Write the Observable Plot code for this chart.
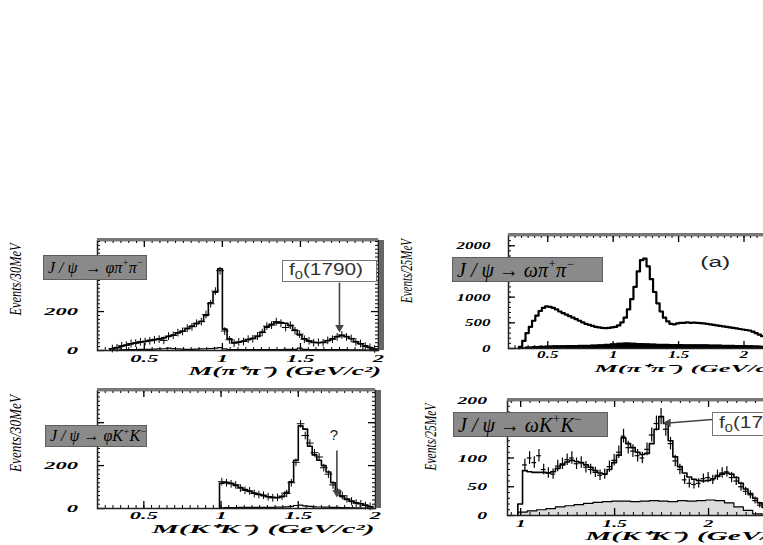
<!DOCTYPE html>
<html><head><meta charset="utf-8">
<script src="https://cdn.jsdelivr.net/npm/d3@7"></script>
<script src="https://cdn.jsdelivr.net/npm/@observablehq/plot@0.6"></script>
<style>
body{margin:0;background:#fff;}
#wrap{position:relative;width:763px;height:545px;overflow:hidden;background:#fff;}
#wrap svg{position:absolute;}
.box{position:absolute;box-sizing:border-box;background:#8a8a8a;border:1px solid #5e5e5e;font-family:"Liberation Serif","Times New Roman",serif;font-style:italic;color:#000;white-space:nowrap;line-height:1;display:flex;align-items:center;padding-left:4px;}
.box sup{font-size:60%;position:relative;top:-0.45em;vertical-align:baseline;}
.fbox{position:absolute;box-sizing:border-box;background:#fff;border:1px solid #777;font-family:"Liberation Sans",Arial,sans-serif;font-size:16px;color:#333;white-space:nowrap;display:flex;align-items:center;padding-left:6px;}
.fbox span{display:inline-block;transform:scaleX(1.3);transform-origin:left center;}
.fbox sub{font-size:70%;}
</style></head><body><div id="wrap"></div><script>
// ---------- Panel 1: J/psi -> phi pi+ pi-  (30 MeV bins) ----------
const p1Start = 0.28, p1Bin = 0.03;
const p1Fit = [8,15,22,28,34,39,43,47,52,56,60,65,72,80,90,100,112,125,138,150,180,245,300,420,110,60,40,42,48,55,63,72,95,120,135,143,144,140,128,105,80,60,48,42,40,42,50,60,72,77,72,60,45,34,24,15,6];
const p1Data = [10,14,24,27,36,38,45,46,50,55,58,52,74,78,92,98,115,122,140,148,185,240,305,410,100,55,38,44,46,58,60,75,92,125,130,148,140,118,130,102,84,58,50,40,42,40,52,58,70,80,70,62,44,36,22,16,8];
const p1Bkg = [0,2,3,4,5,5,6,6,6,7,8,9,12,10,8,7,6,6,7,8,9,10,12,15,8,5,4,4,4,4,5,5,5,5,5,5,5,6,6,6,12,6,5,5,4,4,4,4,4,4,4,3,3,3,2,2,1];
const p1XTicks = [0.5,1,1.5,2];
const p1YTicks = [0,200];
const p1Arrow = [{x1:1.75,y1:349,x2:1.75,y2:118}];

// ---------- Panel 2: J/psi -> omega pi+ pi-  (25 MeV bins) ----------
const p2Start = 0.28, p2Bin = 0.025;
const p2Fit = [30,150,300,420,540,640,730,790,820,810,790,760,720,690,660,630,600,570,540,510,480,460,440,420,410,400,395,400,410,420,450,510,600,760,960,1200,1500,1720,1750,1600,1350,1100,880,720,600,530,480,470,490,500,500,510,500,505,500,495,490,480,470,460,450,440,430,420,410,400,390,380,370,360,350,330,300,270,240,210,180,150,120,90,60,40,20,5];
const p2BkgStart = 0.28, p2BkgBin = 0.05;
const p2Bkg = [10,25,35,40,45,50,50,55,55,60,60,65,70,80,90,100,105,100,95,90,85,80,80,75,75,70,70,70,70,65,65,60,60,55,55,50,45,40,35,25,15,5];
const p2XTicks = [0.5,1,1.5,2];
const p2YTicks = [0,500,1000,2000];
const p2Note = [{m:1.78, v:1680, t:"(a)"}];

// ---------- Panel 3: J/psi -> phi K+ K-  (30 MeV bins) ----------
const p3Start = 0.99, p3Bin = 0.03;
const p3Fit = [118,122,118,108,98,88,80,72,66,60,55,52,50,55,75,125,225,385,370,290,250,225,200,170,120,85,55,42,33,27,22,16,8];
const p3Data = [125,120,115,110,95,85,82,70,65,62,55,50,52,58,70,120,215,395,340,305,260,240,190,160,110,80,60,45,35,25,22,14,10];
const p3Bkg = [3,4,4,4,5,5,5,5,5,5,5,5,6,6,8,10,14,16,12,10,8,7,6,6,5,5,4,4,3,3,2,2,1];
const p3XTicks = [0.5,1,1.5,2];
const p3YTicks = [0,200];
const p3Arrow = [{x1:1.75,y1:270,x2:1.75,y2:75}];
const p3Note = [{m:1.73, v:340, t:"?"}];

// ---------- Panel 4: J/psi -> omega K+ K-  (25 MeV bins) ----------
const p4Start = 0.985, p4Bin = 0.025;
const p4Fit = [20,78,76,75,75,75,74,76,82,88,93,96,94,92,88,84,78,74,72,80,92,105,135,125,118,110,106,108,125,150,172,160,130,102,85,74,67,63,61,60,61,64,68,72,74,72,66,56,46,38,30,22,14,8,3];
const p4PtsM = [1.0225,1.0475,1.0725,1.0975,1.1225,1.1475,1.1725,1.1975,1.2225,1.2475,1.2725,1.2975,1.3225,1.3475,1.3725,1.3975,1.4225,1.4475,1.4725,1.4975,1.5225,1.5475,1.5725,1.5975,1.6225,1.6475,1.6725,1.6975,1.7225,1.7475,1.7725,1.7975,1.8225,1.8475,1.8725,1.8975,1.9225,1.9475,1.9725,1.9975,2.0225,2.0475,2.0725,2.0975,2.1225,2.1475,2.1725,2.1975,2.2225,2.2475,2.2725];
const p4PtsV = [88,100,92,104,80,74,72,86,90,97,100,90,92,84,80,75,70,72,85,96,110,138,118,112,104,100,115,140,160,172,150,125,95,80,62,56,54,56,64,66,62,70,74,76,66,60,50,42,36,26,18];
const p4PtsE = [10,11,10,11,9,9,9,10,10,10,11,10,10,10,9,9,9,9,10,10,11,12,11,11,11,10,11,12,13,14,12,11,10,9,8,8,8,8,8,9,8,9,9,9,9,8,8,7,7,6,5];
const p4BkgStart = 0.985, p4BkgBin = 0.05;
const p4Bkg = [6,8,10,12,15,17,19,21,23,24,25,25,24,25,26,25,24,26,25,26,27,26,22,15,9,3,0];
const p4XTicks = [1,1.5,2];
const p4YTicks = [0,50,100,200];
const p4Arrow = [{x1:2.02,y1:167,x2:1.785,y2:161}];

const SERIF = "Liberation Serif, Times New Roman, serif";
const SANS = "Liberation Sans, Arial, sans-serif";

function rows(start, w, vals) {
  const r = [{m: start, v: 0}];
  vals.forEach((v, i) => r.push({m: start + i * w, v}));
  const end = start + vals.length * w;
  r.push({m: end, v: vals[vals.length - 1]});
  r.push({m: end, v: 0});
  return r;
}
function multiples(lo, hi, step) {
  const a = [];
  for (let k = Math.ceil(lo / step - 1e-9); k * step <= hi + 1e-9; k++) a.push(+(k * step).toFixed(6));
  return a;
}

function drawPanel(c) {
  const fh = c.height - c.mt - c.mb, fw = c.width - c.ml - c.mr;
  const [x0, x1] = c.xDomain, [y0, y1] = c.yDomain;
  const xMin = multiples(x0, x1, c.xMinor), xMaj = multiples(x0, x1, c.xMajor);
  const yMin = multiples(y0, y1, c.yMinor), yMaj = multiples(y0, y1, c.yMajor);
  const marks = [];
  if (c.bkg) {
    const br = rows(c.bkgStart, c.bkgBin, c.bkg);
    if (c.bkgFill) marks.push(Plot.areaY(br, {x: "m", y: "v", curve: "step-after", fill: c.bkgFill}));
    marks.push(Plot.line(br, {x: "m", y: "v", curve: "step-after", stroke: "#000", strokeWidth: 1.2}));
  }
  marks.push(Plot.line(rows(c.fitStart, c.fitBin, c.fit), {x: "m", y: "v", curve: "step-after", stroke: "#000", strokeWidth: c.fitWidth}));
  if (c.data) {
    const pts = c.data.map((v, i) => ({m: c.fitStart + (i + 0.5) * c.fitBin, v}));
    marks.push(Plot.dot(pts, {x: "m", y: "v", symbol: "plus", r: 2.6, stroke: "#000", strokeWidth: 1}));
  }
  if (c.pts) {
    marks.push(Plot.ruleX(c.pts, {x: "m", y1: d => d.v - d.e, y2: d => d.v + d.e, stroke: "#000", strokeWidth: 1.2}));
    marks.push(Plot.ruleY(c.pts, {y: "v", x1: d => d.m - c.fitBin / 2, x2: d => d.m + c.fitBin / 2, stroke: "#000", strokeWidth: 1.2}));
  }
  marks.push(
    Plot.tickX(xMin, {x: d => d, insetTop: fh - 3, stroke: "#000"}),
    Plot.tickX(xMin, {x: d => d, insetBottom: fh - 3, stroke: "#000"}),
    Plot.tickX(xMaj, {x: d => d, insetTop: fh - 7, stroke: "#000", strokeWidth: 1.3}),
    Plot.tickX(xMaj, {x: d => d, insetBottom: fh - 7, stroke: "#000", strokeWidth: 1.3}),
    Plot.tickY(yMin, {y: d => d, insetRight: fw - 3, stroke: "#000"}),
    Plot.tickY(yMin, {y: d => d, insetLeft: fw - 3, stroke: "#000"}),
    Plot.tickY(yMaj, {y: d => d, insetRight: fw - 7, stroke: "#000", strokeWidth: 1.3}),
    Plot.tickY(yMaj, {y: d => d, insetLeft: fw - 7, stroke: "#000", strokeWidth: 1.3})
  );
  marks.push(Plot.frame({stroke: "#222", strokeWidth: 1.5}));
  marks.push(Plot.ruleY([y1], {stroke: "#777", strokeWidth: 3, dy: -1}));
  if (c.shadow) marks.push(Plot.ruleX([x1], {stroke: "#666", strokeWidth: 5, dx: 3}));
  if (c.arrow) {
    marks.push(Plot.link(c.arrow, {x1: "x1", y1: "y1", x2: "x2", y2: "y2", stroke: "#444", strokeWidth: 1.6}));
    marks.push(Plot.dot(c.arrow, {x: "x2", y: "y2", symbol: "triangle", rotate: c.arrowRot, fill: "#444", r: 3.2}));
  }
  if (c.note) marks.push(Plot.text(c.note, {x: "m", y: "v", text: "t", fontFamily: SANS, fontSize: c.noteSize, fill: "#222"}));
  marks.push(
    Plot.axisX({ticks: c.xTicks, tickSize: 0, tickPadding: c.xPad, tickFormat: d => String(d), fontFamily: SERIF, fontWeight: "bold", fontStyle: "italic", fontSize: 11, label: null}),
    Plot.axisY({ticks: c.yTicks, tickSize: 0, tickPadding: c.yPad, tickFormat: d => String(d), fontFamily: SERIF, fontWeight: "bold", fontStyle: "italic", fontSize: 11, label: null}),
    Plot.text([c.xLabel], {frameAnchor: "bottom", text: d => d, textAnchor: "middle", lineAnchor: "middle", dx: c.xlDx, dy: c.xlDy, fontFamily: SERIF, fontWeight: "bold", fontStyle: "italic", fontSize: c.xlSize}),
    Plot.text([c.yLabel], {frameAnchor: "left", text: d => d, textAnchor: "middle", lineAnchor: "middle", rotate: -90, dx: c.ylDx, dy: c.ylDy, fontFamily: SERIF, fontStyle: "italic", fontSize: 17})
  );
  const svg = Plot.plot({
    width: c.width, height: c.height,
    marginLeft: c.ml, marginRight: c.mr, marginTop: c.mt, marginBottom: c.mb,
    x: {domain: c.xDomain, label: null},
    y: {domain: c.yDomain, label: null},
    style: {background: "transparent", overflow: "visible"},
    marks
  });
  svg.style.left = c.left + "px";
  svg.style.top = c.top + "px";
  svg.style.maxWidth = "none";
  document.getElementById("wrap").appendChild(svg);
  // the scanned original has horizontally stretched / condensed lettering: fit text lengths,
  // then keep each text's anchor (start / middle / end) where Plot put it
  svg.querySelectorAll("text").forEach(t => {
    const g = t.parentNode;
    const aria = (g && g.getAttribute && g.getAttribute("aria-label")) || "";
    const s = t.textContent;
    let L = null;
    if (/tick label/.test(aria)) L = t.getComputedTextLength() * c.tickStretch;
    else if (s === c.yLabel) L = c.ylLen;
    else if (s === c.xLabel) L = c.xlLen;
    else if (s === "(a)") L = 30;
    if (!L) return;
    const b0 = t.getBBox();
    t.setAttribute("textLength", L.toFixed(1));
    t.setAttribute("lengthAdjust", "spacingAndGlyphs");
    const b1 = t.getBBox();
    const anchor = getComputedStyle(t).textAnchor;
    let shift = 0;
    if (anchor === "end") shift = (b0.x + b0.width) - (b1.x + b1.width);
    else if (anchor === "middle") shift = (b0.x + b0.width / 2) - (b1.x + b1.width / 2);
    else shift = b0.x - b1.x;
    if (Math.abs(shift) > 0.3) {
      const tr = t.getAttribute("transform") || "";
      t.setAttribute("transform", (tr + ` translate(${shift.toFixed(2)},0)`).trim());
    }
  });
  return svg;
}

drawPanel({left: 0, top: 230, width: 392, height: 155, ml: 97, mr: 14, mt: 10, mb: 35,
  xDomain: [0.2, 2.0], yDomain: [0, 565], xMinor: 0.05, xMajor: 0.5, yMinor: 20, yMajor: 200,
  fitStart: p1Start, fitBin: p1Bin, fit: p1Fit, fitWidth: 1.6, data: p1Data,
  bkgStart: p1Start, bkgBin: p1Bin, bkg: p1Bkg,
  xTicks: p1XTicks, yTicks: p1YTicks, xPad: 4, yPad: 19, tickStretch: 2.05, shadow: true,
  arrow: p1Arrow, arrowRot: 180,
  xLabel: "M(π⁺π⁻) (GeV/c²)", xlDx: 46, xlDy: 21, xlSize: 12, xlLen: 193,
  yLabel: "Events/30MeV", ylDx: -82, ylDy: -16, ylLen: 72});

drawPanel({left: 390, top: 225, width: 442, height: 160, ml: 118, mr: 10, mt: 10, mb: 37,
  xDomain: [0.2, 2.6], yDomain: [0, 2200], xMinor: 0.05, xMajor: 0.5, yMinor: 100, yMajor: 500,
  fitStart: p2Start, fitBin: p2Bin, fit: p2Fit, fitWidth: 2.2,
  bkgStart: p2BkgStart, bkgBin: p2BkgBin, bkg: p2Bkg, bkgFill: "#000",
  xTicks: p2XTicks, yTicks: p2YTicks, xPad: 2, yPad: 18, tickStretch: 1.55,
  note: p2Note, noteSize: 14,
  xLabel: "M(π⁺π⁻) (GeV/c²)", xlDx: 23, xlDy: 20, xlSize: 11, xlLen: 190,
  yLabel: "Events/25MeV", ylDx: -102, ylDy: -21, ylLen: 64});

drawPanel({left: 0, top: 380, width: 392, height: 165, ml: 97, mr: 17, mt: 10, mb: 37,
  xDomain: [0.2, 2.0], yDomain: [0, 550], xMinor: 0.05, xMajor: 0.5, yMinor: 20, yMajor: 200,
  fitStart: p3Start, fitBin: p3Bin, fit: p3Fit, fitWidth: 1.6, data: p3Data,
  bkgStart: p3Start, bkgBin: p3Bin, bkg: p3Bkg,
  xTicks: p3XTicks, yTicks: p3YTicks, xPad: 3, yPad: 19, tickStretch: 2.05, shadow: true,
  arrow: p3Arrow, arrowRot: 180, note: p3Note, noteSize: 15,
  xLabel: "M(K⁺K⁻) (GeV/c²)", xlDx: 26, xlDy: 21, xlSize: 12, xlLen: 223,
  yLabel: "Events/30MeV", ylDx: -82, ylDy: -16, ylLen: 77});

drawPanel({left: 390, top: 390, width: 422, height: 160, ml: 117, mr: 10, mt: 10, mb: 35,
  xDomain: [0.93, 2.5], yDomain: [0, 200], xMinor: 0.05, xMajor: 0.5, yMinor: 10, yMajor: 50,
  fitStart: p4Start, fitBin: p4Bin, fit: p4Fit, fitWidth: 1.6,
  pts: p4PtsM.map((m, i) => ({m, v: p4PtsV[i], e: p4PtsE[i]})),
  bkgStart: p4BkgStart, bkgBin: p4BkgBin, bkg: p4Bkg, bkgFill: "#dcdcdc",
  xTicks: p4XTicks, yTicks: p4YTicks, xPad: 4, yPad: 20, tickStretch: 1.8,
  arrow: p4Arrow, arrowRot: -90,
  xLabel: "M(K⁺K⁻) (GeV/c²)", xlDx: 37, xlDy: 21, xlSize: 12, xlLen: 215,
  yLabel: "Events/25MeV", ylDx: -77, ylDy: -21, ylLen: 67});

const boxes = [
  {l: 43, t: 255, w: 104, h: 25, fs: 16, html: "J / ψ &nbsp;→ φπ<sup>+</sup>π<sup>−</sup>"},
  {l: 452, t: 257, w: 151, h: 25, fs: 20, html: "J / ψ → ωπ<sup>+</sup>π<sup>−</sup>"},
  {l: 45, t: 425, w: 102, h: 22, fs: 16, html: "J / ψ → φK<sup>+</sup>K<sup>−</sup>"},
  {l: 453, t: 412, w: 155, h: 25, fs: 20, html: "J / ψ → ωK<sup>+</sup>K<sup>−</sup>"}
];
const wrap = document.getElementById("wrap");
boxes.forEach(b => {
  const d = document.createElement("div");
  d.className = "box";
  Object.assign(d.style, {left: b.l + "px", top: b.t + "px", width: b.w + "px", height: b.h + "px", fontSize: b.fs + "px"});
  d.innerHTML = b.html;
  wrap.appendChild(d);
});
const fboxes = [{l: 282, t: 260, w: 95, h: 22}, {l: 712, t: 412, w: 100, h: 24}];
fboxes.forEach(b => {
  const d = document.createElement("div");
  d.className = "fbox";
  Object.assign(d.style, {left: b.l + "px", top: b.t + "px", width: b.w + "px", height: b.h + "px"});
  d.innerHTML = "<span>f<sub>0</sub>(1790)</span>";
  wrap.appendChild(d);
});
</script></body></html>
